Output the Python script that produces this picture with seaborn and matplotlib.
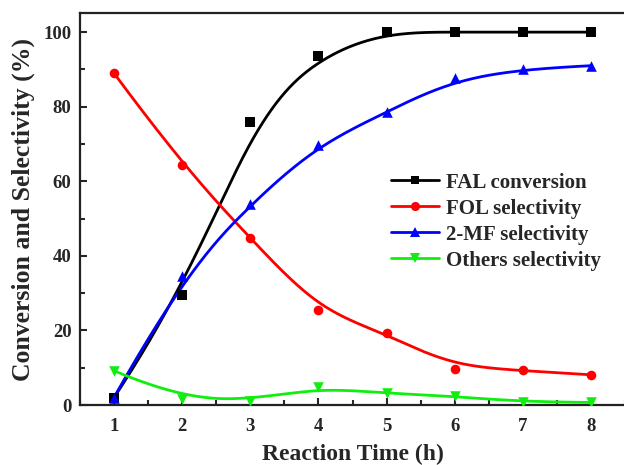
import numpy as np
import pandas as pd
import matplotlib
matplotlib.use("Agg")
import matplotlib.pyplot as plt
from matplotlib.lines import Line2D
from matplotlib.ticker import MultipleLocator
import seaborn as sns

# ---- data ----
time_h = [1, 2, 3, 4, 5, 6, 7, 8]
fal_conversion = [2.0, 29.5, 76.0, 93.5, 100.0, 100.0, 100.0, 100.0]
fol_selectivity = [89.0, 64.3, 44.8, 25.4, 19.2, 9.7, 9.3, 8.1]
mf_selectivity = [2.0, 34.5, 54.0, 69.8, 78.5, 87.6, 90.1, 91.0]
others_selectivity = [9.2, 1.5, 1.2, 4.7, 3.1, 2.4, 0.8, 0.7]
series_names = ["FAL conversion", "FOL selectivity", "2-MF selectivity", "Others selectivity"]

sns.set_style("ticks")
plt.rcParams["font.family"] = ["Liberation Serif", "DejaVu Serif"]
plt.rcParams["font.weight"] = "bold"


def bspline(cx, cy, n=500, k=3):
    """Clamped uniform B-spline using the data points as control points (Origin 'B-Spline' connect)."""
    cx = np.asarray(cx, float)
    cy = np.asarray(cy, float)
    m = len(cx)
    knots = np.concatenate([[0] * k, np.arange(m - k + 1), [m - k] * k]).astype(float)
    t = np.linspace(0, m - k, n)
    t[-1] -= 1e-9
    B = np.zeros((n, len(knots) - 1))
    for i in range(len(knots) - 1):
        B[:, i] = (t >= knots[i]) & (t < knots[i + 1])
    for d in range(1, k + 1):
        Bn = np.zeros((n, len(knots) - 1 - d))
        for i in range(len(knots) - 1 - d):
            a = knots[i + d] - knots[i]
            b = knots[i + d + 1] - knots[i + 1]
            term = np.zeros(n)
            if a > 0:
                term += (t - knots[i]) / a * B[:, i]
            if b > 0:
                term += (knots[i + d + 1] - t) / b * B[:, i + 1]
            Bn[:, i] = term
        B = Bn
    return B @ cx, B @ cy


fig = plt.figure(figsize=(6.24, 4.65), dpi=100)
ax = fig.add_axes([0.128, 0.129, 0.874, 0.842])

colors = ["#000000", "#FF0000", "#0000FF", "#10EE10"]
markers = ["s", "o", "^", "v"]
msizes = [44, 48, 58, 58]
values = [fal_conversion, fol_selectivity, mf_selectivity, others_selectivity]

handles = []
for name, vals, c, mk, ms in zip(series_names, values, colors, markers, msizes):
    sx, sy = bspline(time_h, vals)
    curve = pd.DataFrame({"x": sx, "y": sy})
    sns.lineplot(data=curve, x="x", y="y", sort=False, color=c, linewidth=2.0, ax=ax,
                 estimator=None, zorder=2)
    pts = pd.DataFrame({"x": time_h, "y": vals})
    sns.scatterplot(data=pts, x="x", y="y", color=c, marker=mk, s=ms, linewidth=0,
                    ax=ax, zorder=3)
    handles.append(Line2D([], [], color=c, linewidth=2.0, marker=mk,
                          markersize=np.sqrt(ms) * 0.95, markeredgewidth=0))

ax.set_xlim(0.5, 8.5)
ax.set_ylim(0, 105)
ax.xaxis.set_major_locator(MultipleLocator(1))
ax.xaxis.set_minor_locator(MultipleLocator(0.5))
ax.yaxis.set_major_locator(MultipleLocator(20))
ax.yaxis.set_minor_locator(MultipleLocator(10))
ax.tick_params(which="major", direction="in", length=5, width=1.5, labelsize=13.5, pad=6)
ax.tick_params(which="minor", direction="in", length=3.5, width=1.5)
ax.tick_params(axis="x", which="major", pad=9)
ax.tick_params(top=False, right=False, which="both")
for lab in ax.get_xticklabels() + ax.get_yticklabels():
    lab.set_fontweight("bold")

for side in ["left", "bottom", "top"]:
    ax.spines[side].set_linewidth(1.6)
    ax.spines[side].set_color("#222222")
ax.spines["right"].set_visible(False)

ax.set_xlabel("Reaction Time (h)", fontsize=17, fontweight="bold", labelpad=6.5)
ax.set_ylabel("Conversion and Selectivity (%)", fontsize=18.5, fontweight="bold", labelpad=6)

leg = ax.legend(handles, series_names, loc="upper left", bbox_to_anchor=(0.555, 0.615),
                frameon=False, fontsize=15, handlelength=2.3, handletextpad=0.35,
                labelspacing=0.29, borderaxespad=0)
for txt in leg.get_texts():
    txt.set_fontweight("bold")

fig.savefig("out.png", dpi=100)
